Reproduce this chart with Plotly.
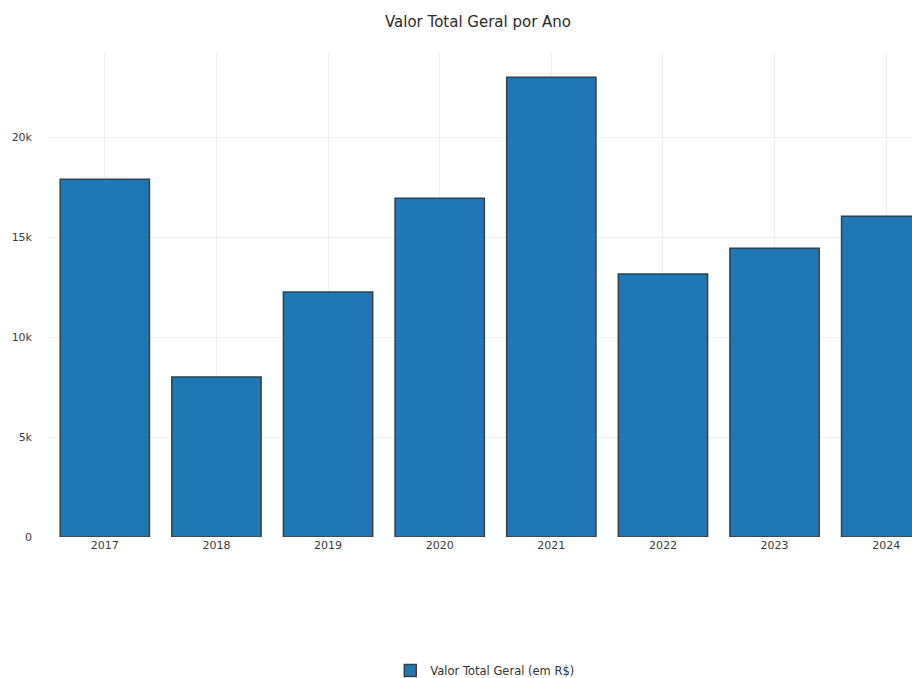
import plotly.graph_objects as go

anos = ["2017", "2018", "2019", "2020", "2021", "2022", "2023", "2024"]
valores = [17900, 8000, 12250, 16950, 23000, 13150, 14450, 16050]

fig = go.Figure()
fig.add_trace(go.Bar(
    x=anos, y=valores, name="Valor Total Geral (em R$)",
    marker=dict(color="#1f77b4", line=dict(color="#3a3f44", width=1.5)),
    showlegend=True,
))
fig.update_layout(
    width=956, height=700,
    title=dict(text="Valor Total Geral por Ano", x=0.5, xanchor="center",
               y=0.977, yanchor="top",
               font=dict(size=15, color="#2a2a2a")),
    font=dict(family="DejaVu Sans", size=11, color="#444"),
    paper_bgcolor="white", plot_bgcolor="white",
    margin=dict(l=49, r=14, t=53, b=163),
    bargap=0.2,
    legend=dict(orientation="h", x=0.488, xanchor="center", y=-0.246, yanchor="top",
                font=dict(size=11.5, color="#333")),
    xaxis=dict(type="category", showgrid=True, gridcolor="#eeeeee",
               tickfont=dict(size=11, color="#3a3a3a")),
    yaxis=dict(showgrid=True, gridcolor="#eeeeee", zeroline=False,
               ticklabelstandoff=16,
               tickfont=dict(size=11, color="#3a3a3a")),
)
fig.write_html("out.html")
